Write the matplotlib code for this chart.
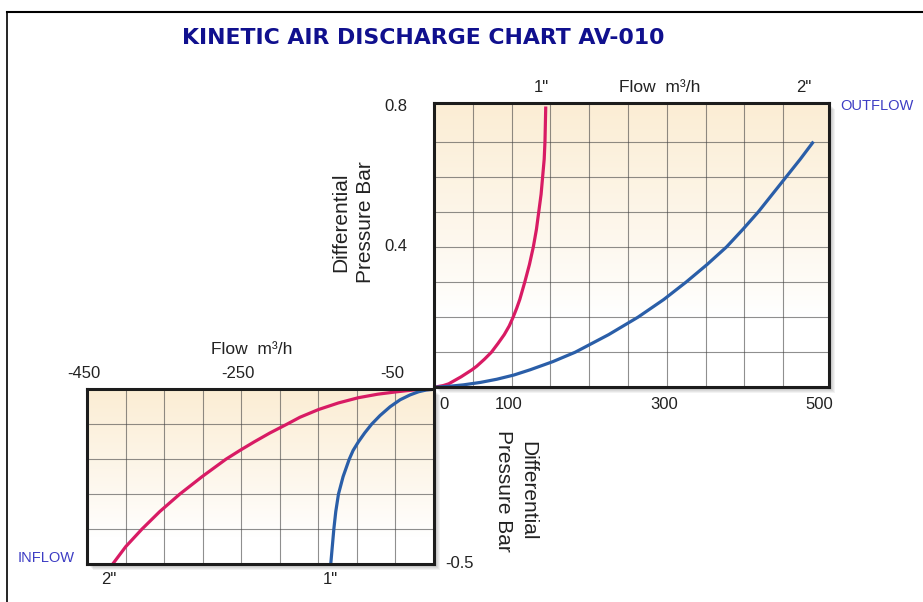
import matplotlib.pyplot as plt
from matplotlib.colors import LinearSegmentedColormap
from matplotlib.patches import Rectangle
from matplotlib.lines import Line2D
import numpy as np

plt.rcParams['font.family'] = ['Liberation Sans', 'DejaVu Sans']

# outflow curves (flow m3/h, differential pressure bar)
out_1in_flow = [0, 12, 19, 27, 35, 42, 49, 55, 65, 74, 82.5, 90.5, 97, 102, 106.5, 110.5, 117,
                123, 128, 132, 135, 138, 140, 142, 143, 143.5, 144]
out_1in_dp = [0, 0.005, 0.01, 0.02, 0.03, 0.04, 0.05, 0.06, 0.08, 0.10, 0.125, 0.15, 0.175,
              0.20, 0.225, 0.25, 0.30, 0.35, 0.40, 0.45, 0.50, 0.55, 0.60, 0.65, 0.70, 0.75, 0.80]
out_2in_flow = [0, 20, 38, 60, 81, 103, 124, 153, 182, 225, 263, 296, 325, 352, 377, 398, 418,
                436, 454, 472, 489]
out_2in_dp = [0, 0.003, 0.007, 0.014, 0.023, 0.035, 0.05, 0.073, 0.10, 0.15, 0.20, 0.25, 0.30,
              0.35, 0.40, 0.45, 0.50, 0.55, 0.60, 0.65, 0.70]

# inflow curves
in_2in_flow = [0, -27, -48, -73, -98, -124, -150, -174, -191, -213, -233, -252, -270, -301, -330,
               -356, -379, -400, -417]
in_2in_dp = [0, -0.002, -0.007, -0.014, -0.024, -0.039, -0.058, -0.08, -0.10, -0.125, -0.15,
             -0.175, -0.20, -0.25, -0.30, -0.35, -0.40, -0.45, -0.50]
in_1in_flow = [0, -10, -20, -31, -44, -57, -70, -81, -90, -98, -105, -110, -118, -124, -127.5,
               -130, -132, -134]
in_1in_dp = [0, -0.002, -0.007, -0.016, -0.03, -0.05, -0.075, -0.10, -0.125, -0.15, -0.175,
             -0.20, -0.25, -0.30, -0.35, -0.40, -0.45, -0.50]

out_tick_vals = [100, 300, 500]
out_dp_ticks = [0.8, 0.4]
in_tick_vals = [-450, -250, -50]

PINK = '#d81b64'
BLUE = '#2a5ea8'
W, H = 923, 602


def fx(x):
    return x / W


def fy(y):
    return 1 - y / H


fig = plt.figure(figsize=(W / 100, H / 100), dpi=100)
fig.patch.set_facecolor('white')

cream = LinearSegmentedColormap.from_list('cream', ['#ffffff', '#fbedd4'])


def panel(x0, y0, x1, y1, xlim, ylim, xgrid, ygrid, white_frac):
    # drop shadow
    for k in range(1, 7):
        fig.add_artist(Rectangle((fx(x0 + k), fy(y1 + k)), fx(x1 - x0), (y1 - y0) / H,
                                 transform=fig.transFigure, facecolor='black',
                                 alpha=0.05, edgecolor='none', zorder=-1))
    ax = fig.add_axes([fx(x0), fy(y1), fx(x1 - x0), (y1 - y0) / H])
    g = np.clip((np.linspace(0, 1, 200) - white_frac) / (1 - white_frac), 0, 1)
    ax.imshow(g[:, None] ** 0.9, cmap=cream, origin='lower', aspect='auto',
              extent=(0, 1, 0, 1), transform=ax.transAxes, vmin=0, vmax=1, zorder=0)
    ax.set_xlim(*xlim)
    ax.set_ylim(*ylim)
    ax.set_xticks(xgrid)
    ax.set_yticks(ygrid)
    ax.set_axisbelow(True)
    ax.grid(True, color='#444444', lw=0.8, alpha=0.6)
    ax.tick_params(length=0, labelbottom=False, labelleft=False)
    for s in ax.spines.values():
        s.set_linewidth(2.2)
        s.set_color('#1c1c1c')
    return ax


ax_out = panel(434, 103, 829, 387.3, (0, 509), (0, 0.81),
               np.arange(50, 451, 50), np.arange(0.1, 0.71, 0.1), 0.25)
ax_in = panel(87.3, 389.3, 434, 564, (-450, 0), (-0.5, 0),
              np.arange(-400, -49, 50), np.arange(-0.4, -0.09, 0.1), 0.15)

line_kw = dict(lw=2.3, solid_capstyle='butt', solid_joinstyle='round')
ax_out.plot(out_1in_flow, out_1in_dp, color=PINK, **line_kw)
ax_out.plot(out_2in_flow, out_2in_dp, color=BLUE, **line_kw)
ax_in.plot(in_2in_flow, in_2in_dp, color=PINK, **line_kw)
ax_in.plot(in_1in_flow, in_1in_dp, color=BLUE, **line_kw)

# outflow labels
tx = ax_out.get_xaxis_transform()
ty = ax_out.get_yaxis_transform()
ax_out.text(7, -0.06, '0', transform=tx, ha='left', va='center', fontsize=12, color='#222')
for v in out_tick_vals:
    ax_out.text(v - 4, -0.06, str(v), transform=tx, ha='center', va='center',
                fontsize=12, color='#222')
for v in out_dp_ticks:
    ax_out.text(-0.068, v, str(v), transform=ty, ha='right', va='center',
                fontsize=12, color='#222')
ax_out.text(out_1in_flow[-1] - 6, 1.055, '1"', transform=tx, ha='center', va='center',
            fontsize=12, color='#222')
ax_out.text(out_2in_flow[-1] - 13, 1.055, '2"', transform=tx, ha='center', va='center',
            fontsize=12, color='#222')
fig.text(fx(660), fy(88), 'Flow  m³/h', ha='center', va='center', fontsize=12.5, color='#222')
fig.text(fx(353), fy(283), 'Differential\nPressure Bar', rotation=90, ha='center', va='bottom',
         fontsize=15, color='#222', linespacing=1.35)
fig.text(fx(840), fy(106), 'OUTFLOW', ha='left', va='center', fontsize=10.5, color='#3d3dc4')

# inflow labels
tx2 = ax_in.get_xaxis_transform()
for v in in_tick_vals:
    ax_in.text(v - 4, 1.088, str(v), transform=tx2, ha='center', va='center',
               fontsize=12, color='#222')
fig.text(fx(445), fy(564), '-0.5', ha='left', va='center', fontsize=12, color='#222')
ax_in.text(in_2in_flow[-1] - 5, -0.09, '2"', transform=tx2, ha='center', va='center',
           fontsize=12, color='#222')
ax_in.text(in_1in_flow[-1], -0.09, '1"', transform=tx2, ha='center', va='center',
           fontsize=12, color='#222')
fig.text(fx(252), fy(349), 'Flow  m³/h', ha='center', va='center', fontsize=12.5, color='#222')
fig.text(fx(516), fy(430), 'Differential\nPressure Bar', rotation=-90, ha='center', va='top',
         fontsize=15, color='#222', linespacing=1.35)
fig.text(fx(46), fy(558), 'INFLOW', ha='center', va='center', fontsize=10.5, color='#3d3dc4')

# title
fig.text(fx(423), fy(38), 'KINETIC AIR DISCHARGE CHART AV-010', ha='center', va='center',
         fontsize=15.8, fontweight='bold', color='#10108e', family='DejaVu Sans')

# page frame
fig.add_artist(Line2D([fx(7), 1], [fy(12), fy(12)], color='black', lw=1.5,
                      transform=fig.transFigure))
fig.add_artist(Line2D([fx(7), fx(7)], [fy(12), 0], color='black', lw=1.2,
                      transform=fig.transFigure))

fig.savefig('out.png', dpi=100)
